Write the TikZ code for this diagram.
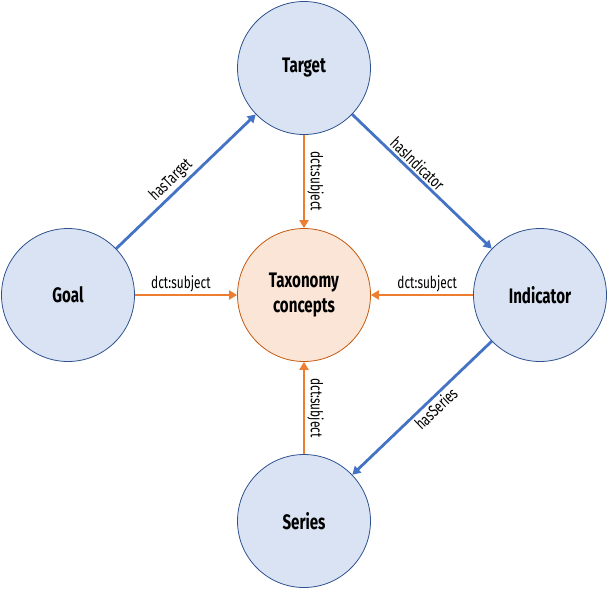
\documentclass[tikz,border=0pt]{standalone}
\usepackage{fontspec}
\newfontfamily\agency[FakeStretch=0.72]{Fira Sans}
\usetikzlibrary{arrows.meta}
\definecolor{nodeblue}{HTML}{DAE3F3}
\definecolor{rimblue}{HTML}{2F528F}
\definecolor{lineblue}{HTML}{4472C4}
\definecolor{nodeorange}{HTML}{FBE5D6}
\definecolor{rimorange}{HTML}{C55A11}
\definecolor{lineorange}{HTML}{ED7D31}
\begin{document}
\begin{tikzpicture}[x=1pt,y=-1pt,
    concept/.style={circle, draw=rimblue, fill=nodeblue, line width=0.8pt,
      minimum size=133pt, inner sep=0pt, align=center,
      font=\agency\fontsize{21}{25}\selectfont\bfseries},
    taxon/.style={concept, draw=rimorange, fill=nodeorange},
    rel/.style={draw=lineblue, line width=2.8pt, -{Triangle[length=8pt,width=9pt]}},
    subj/.style={rel, draw=lineorange},
    lbl/.style={font=\agency\fontsize{16.5}{18}\selectfont, inner sep=2pt}]
  \useasboundingbox (0,0) rectangle (611,590);
  \node (target) at (304,68) [concept] {Target}; \node (goal) at (68,295)
  [concept] {Goal}; \node (tax) at (304,295) [taxon] {Taxonomy\\concepts};
  \node (indicator) at (540,295) [concept] {Indicator}; \node (series) at
  (304,521) [concept] {Series};
  \draw[rel] (goal) -- node[lbl, sloped, above, pos=0.45] {hasTarget} (target);
  \draw[rel] (target) -- node[lbl, sloped, above, pos=0.42] {hasIndicator} (indicator);
  \draw[rel] (indicator) -- node[lbl, sloped, below, pos=0.45] {hasSeries} (series);
  \draw[subj] (target) -- node[lbl, rotate=-90, anchor=south] {dct:subject} (tax);
  \draw[subj] (series) -- node[lbl, rotate=-90, anchor=south] {dct:subject} (tax);
  \draw[subj] (goal) -- node[lbl, above, pos=0.45] {dct:subject} (tax);
  \draw[subj] (indicator) -- node[lbl, above, pos=0.45] {dct:subject} (tax);
\end{tikzpicture}
\end{document}
